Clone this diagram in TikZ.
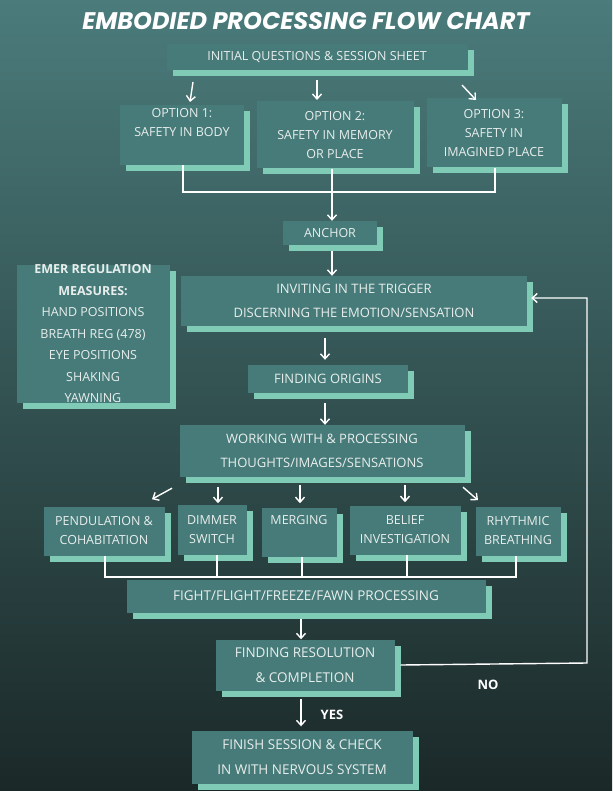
\documentclass[tikz,border=0pt]{standalone}
\usepackage{fontspec}
\setmainfont{Open Sans}
\newfontfamily\titlefont{Poppins}
\usetikzlibrary{shadows,arrows.meta}
\definecolor{boxc}{HTML}{467B79}
\definecolor{mint}{HTML}{7FCBB6}
\definecolor{bgtop}{HTML}{4B7B7B}
\definecolor{bgbot}{HTML}{1B2828}
\definecolor{txt}{HTML}{E8EEEC}
\begin{document}
\begin{tikzpicture}[x=1pt,y=-1pt]
%define
\tikzset{
  stage/.style={rectangle, fill=boxc, text=txt, align=center, inner sep=0pt,
    font=\fontsize{12.5}{19}\selectfont,
    drop shadow={shadow xshift=6pt, shadow yshift=-6pt, fill=mint, opacity=1}},
  arrow/.style={draw=white, line width=1.4pt, -{Straight Barb[length=5pt,width=9pt]}},
  link/.style={draw=white, line width=1.4pt},
  tag/.style={text=white, font=\bfseries\fontsize{13}{15}\selectfont}
}

%background
\fill[top color=bgtop, bottom color=bgbot] (0,0) rectangle (612,791);
\useasboundingbox (0,0) rectangle (612,791);

\node[text=white, font=\titlefont\bfseries\itshape\fontsize{24}{28}\selectfont] (title) at (306,21) {EMBODIED PROCESSING FLOW CHART};

%top
\node[stage, minimum width=301, minimum height=26] (questions) at (317,57) {INITIAL QUESTIONS \& SESSION SHEET};
\node[stage, minimum width=124, minimum height=60] (opt1) at (182,135) {OPTION 1:\\SAFETY IN BODY\\\strut};
\node[stage, minimum width=157, minimum height=67] (opt2) at (335,135) {OPTION 2:\\SAFETY IN MEMORY\\OR PLACE};
\node[stage, minimum width=135, minimum height=69] (opt3) at (494,133) {OPTION 3:\\SAFETY IN\\IMAGINED PLACE};
\node[stage, minimum width=94, minimum height=24] (anchor) at (330,233) {ANCHOR};

%middle
\node[stage, minimum width=153, minimum height=128, font=\fontsize{12.5}{21.5}\selectfont] (emer) at (93,334)
  {\textbf{EMER REGULATION}\\\textbf{MEASURES:}\\HAND POSITIONS\\BREATH REG (478)\\EYE POSITIONS\\SHAKING\\YAWNING};
\node[stage, minimum width=346, minimum height=50, font=\fontsize{13}{24}\selectfont] (trigger) at (354,301) {INVITING IN THE TRIGGER\\DISCERNING THE EMOTION/SENSATION};
\node[stage, minimum width=160, minimum height=28, font=\fontsize{13}{15}\selectfont] (origins) at (328,379) {FINDING ORIGINS};
\node[stage, minimum width=285, minimum height=52, font=\fontsize{13}{24}\selectfont] (working) at (322,451) {WORKING WITH \& PROCESSING\\THOUGHTS/IMAGES/SENSATIONS};

%techniques
\node[stage, minimum width=121, minimum height=49] (pendulation) at (104,531) {PENDULATION \&\\COHABITATION};
\node[stage, minimum width=69, minimum height=50] (dimmer) at (212,530) {DIMMER\\SWITCH};
\node[stage, minimum width=75, minimum height=49] (merging) at (299,532) {MERGING\\[6pt]};
\node[stage, minimum width=111, minimum height=49] (belief) at (405,530) {BELIEF\\INVESTIGATION};
\node[stage, minimum width=85, minimum height=49] (rhythmic) at (518,531) {RHYTHMIC\\BREATHING};

%bottom
\node[stage, minimum width=359, minimum height=33, font=\fontsize{13.5}{15}\selectfont] (fight) at (306,596) {FIGHT/FLIGHT/FREEZE/FAWN PROCESSING};
\node[stage, minimum width=179, minimum height=51, font=\fontsize{13.5}{25}\selectfont] (resolution) at (305,665) {FINDING RESOLUTION\\\& COMPLETION};
\node[stage, minimum width=221, minimum height=53, font=\fontsize{13.5}{25}\selectfont] (finish) at (302,757) {FINISH SESSION \& CHECK\\IN WITH NERVOUS SYSTEM};

\node[tag] (no) at (488,685) {NO};
\node[tag] (yes) at (332,715) {YES};

%line
\coordinate (joinA) at (332,192);
\coordinate (joinB) at (302,577);
\coordinate (loopA) at (587,663);
\coordinate (loopB) at (587,298);

\draw[arrow] ([xshift=-124,yshift=-25]questions.center) -- ([xshift=-127,yshift=-45]questions.center);
\draw[arrow] ([yshift=-23]questions.center) -- ([yshift=-43]questions.center);
\draw[arrow] ([xshift=145,yshift=-28]questions.center) -- ([xshift=159,yshift=-43]questions.center);

\draw[link] ([xshift=1]opt1.south) |- (joinA) -| ([xshift=1]opt3.south);
\draw[link] ([xshift=-3]opt2.south) -- (joinA |- opt2.south) -- (joinA);
\draw[arrow] (joinA) -- ([xshift=2]anchor.north);
\draw[arrow] ([xshift=2,yshift=-6]anchor.south) -- ([xshift=2]anchor.south |- trigger.north);

\draw[arrow] ([xshift=-29,yshift=-12]trigger.south) -- ([xshift=-3,yshift=5]origins.north);
\draw[arrow] ([xshift=-3,yshift=-10]origins.south) -- ([xshift=3]working.north);

\draw[arrow] ([xshift=-150,yshift=-11]working.south) -- ([xshift=-170,yshift=-22]working.south);
\draw[arrow] ([xshift=-104,yshift=-10]working.south) -- ([xshift=-104,yshift=-26]working.south);
\draw[arrow] ([xshift=-22,yshift=-8]working.south) -- ([xshift=-22,yshift=-26]working.south);
\draw[arrow] ([xshift=83,yshift=-8]working.south) -- ([xshift=83,yshift=-25]working.south);
\draw[arrow] ([xshift=141,yshift=-10]working.south) -- ([xshift=156,yshift=-23]working.south);

\draw[link] ([xshift=1]pendulation.south) |- (joinB) -| ([xshift=-2]rhythmic.south);
\draw[link] ([xshift=5]dimmer.south) -- ++(0,22);
\draw[link] ([xshift=3]merging.south) -- ++(0,20);
\draw[link] ([xshift=2]belief.south) -- ++(0,22);

\draw[arrow] ([xshift=-5,yshift=-6]fight.south) -- ([xshift=-4]resolution.north);
\draw[arrow] ([xshift=6]resolution.east) -- (loopA) -- (loopB) -- ([xshift=4]trigger.east |- loopB);
\draw[arrow] ([xshift=-4,yshift=-8]resolution.south) -- ([xshift=-1,yshift=4]finish.north);

\end{tikzpicture}
\end{document}
